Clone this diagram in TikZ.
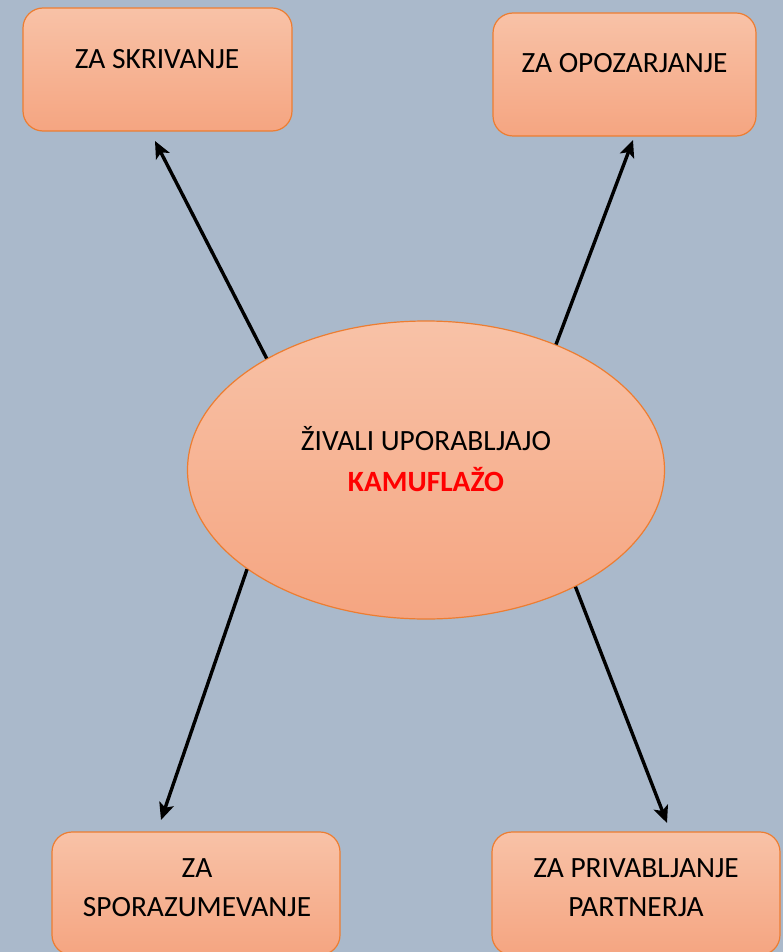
\documentclass[tikz,border=0pt]{standalone}
\usepackage{fontspec}
\setmainfont{Carlito}
\usepackage{tikz}
\usetikzlibrary{arrows.meta,shapes.geometric}
\tikzset{>={Stealth[length=8.5pt,width=7.5pt,inset=2pt]}}
\definecolor{bgblue}{HTML}{AAB9CB}
\definecolor{peachtop}{HTML}{F8C2A7}
\definecolor{peachbot}{HTML}{F5A581}
\definecolor{edgeorange}{HTML}{ED7D31}
\definecolor{kamred}{HTML}{FF0000}

\tikzset{
  box/.style={rectangle, rounded corners=10pt, draw=edgeorange, line width=0.6pt,
    top color=peachtop, bottom color=peachbot, minimum height=61.5pt, inner sep=0pt},
  txt/.style={font=\fontsize{14.7}{19.5}\selectfont, align=center, inner sep=0pt},
  link/.style={->, line width=1.7pt}
}

\begin{document}
\begin{tikzpicture}[x=0.5pt, y=-0.5pt]
      % canvas
      \useasboundingbox (0,0) rectangle (783,952);
      \fill [bgblue] (0,0) rectangle (783,952);
      % central ellipse
      \node [ellipse, draw=edgeorange, line width=0.6pt, top color=peachtop, bottom color=peachbot,
        minimum width=238.5pt, minimum height=149pt, inner sep=0pt] (ziv) at (426,470) {};
      \node [txt] (zivtxt) at (426,459) {ŽIVALI UPORABLJAJO\\[1pt]\textcolor{kamred}{\textbf{KAMUFLAŽO}}};
      % four boxes
      \node [box, minimum width=134.5pt] (skriv) at (157.5,69.5) {};
      \node [txt] (skrivtxt) at (157,59) {ZA SKRIVANJE};
      \node [box, minimum width=131.5pt] (opoz) at (624.5,74.5) {};
      \node [txt] (opoztxt) at (624.5,63) {ZA OPOZARJANJE};
      \node [box, minimum width=144pt] (spor) at (196,893.5) {};
      \node [txt] (sportxt) at (197,888) {ZA\\SPORAZUMEVANJE};
      \node [box, minimum width=144pt] (priv) at (636,893.5) {};
      \node [txt] (privtxt) at (636,887.5) {ZA PRIVABLJANJE\\PARTNERJA};
      % arrow ends
      \coordinate (tipskriv) at (155,141);
      \coordinate (tipopoz) at (633,140);
      \coordinate (tipspor) at (161,820);
      \coordinate (tippriv) at (667,823);
      % arrows
      \draw [link] (ziv.145) -- (tipskriv);
      \draw [link] (ziv.44) -- (tipopoz);
      \draw [link] (ziv.209) -- (tipspor);
      \draw [link] (ziv.322) -- (tippriv);
\end{tikzpicture}
\end{document}
